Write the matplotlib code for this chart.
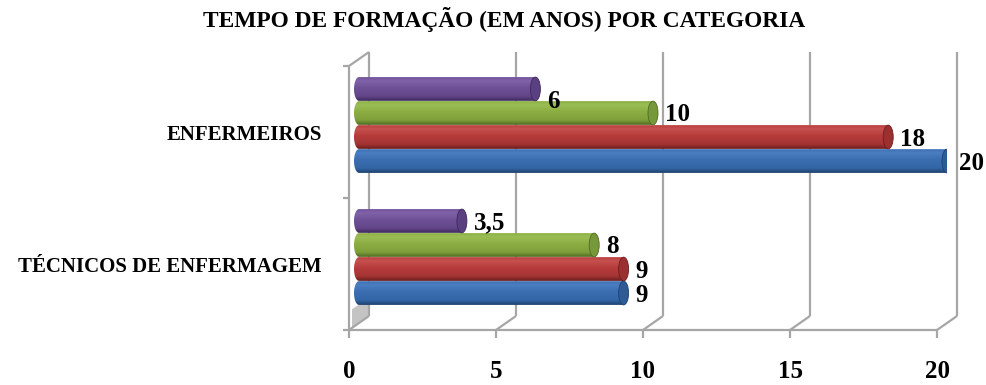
import matplotlib.pyplot as plt
import matplotlib.colors as mcolors
from matplotlib.lines import Line2D
from matplotlib.patches import Polygon, Ellipse
from matplotlib.transforms import IdentityTransform
import numpy as np

# Data
title = "TEMPO DE FORMAÇÃO (EM ANOS) POR CATEGORIA"
categories = ["TÉCNICOS DE ENFERMAGEM", "ENFERMEIROS"]
serie1 = [9, 20]
serie2 = [9, 18]
serie3 = [8, 10]
serie4 = [3.5, 6]
x_ticks = [0, 5, 10, 15, 20]

series = [serie1, serie2, serie3, serie4]

# cylinder shading, top -> bottom
shades = [
    ['#3e71b4', '#4b7ec1', '#3b6eb1', '#3366a6', '#1f426f'],   # blue
    ['#b9403f', '#c65150', '#b63b3b', '#a53434', '#6c1e1e'],   # red
    ['#8db046', '#9bbd55', '#8cad42', '#7f9f3a', '#506b24'],   # green
    ['#71539b', '#7f62a8', '#6e5097', '#634689', '#3e2a5c'],   # purple
]
cap_colors = ['#2e5b96', '#9a3030', '#76973a', '#5a4080']

plt.rcParams['font.family'] = ['Liberation Serif', 'DejaVu Serif']
plt.rcParams['font.weight'] = 'bold'

W, H = 986, 385
fig = plt.figure(figsize=(W / 100, H / 100), dpi=100, facecolor='white')

# axes = middle depth plane of the 3D box (x from -0.5 so the rounded bar ends fit)
ppu = 29.4
left_px, right_px, top_px, bot_px = 359 - 0.5 * ppu, 947, 59, 323
ax = fig.add_axes([left_px / W, 1 - bot_px / H, (right_px - left_px) / W, (bot_px - top_px) / H])
XL = (-0.5, 20)
YL = (-0.5, 1.5)
ax.set_xlim(*XL)
ax.set_ylim(*YL)
ax.set_autoscale_on(False)
ax.axis('off')

FRONT = np.array([-10, -7])
BACK = np.array([10, 7])
grid_col = '#a6a6a6'


def px(x, y, off):
    return ax.transData.transform((x, y)) + off


def seg(p1, p2, z=1, lw=1.6):
    pts = np.array([p1, p2])
    ax.add_line(Line2D(pts[:, 0], pts[:, 1], color=grid_col, lw=lw,
                       transform=IdentityTransform(), clip_on=False, zorder=z,
                       solid_capstyle='butt'))


y0, y1 = YL

# back wall gridlines + floor diagonals + ticks
for t in x_ticks:
    seg(px(t, y0, BACK), px(t, y1, BACK))
    seg(px(t, y0, BACK), px(t, y0, FRONT))
    seg(px(t, y0, FRONT), px(t, y0, FRONT) + np.array([0, -8]))
    ax.annotate(str(t), xy=(t, y0), xytext=(-10, -48), textcoords='offset pixels',
                ha='center', va='center', fontsize=18, fontweight='bold')

# front axes lines
seg(px(0, y0, FRONT), px(20, y0, FRONT))
seg(px(0, y0, FRONT), px(0, y1, FRONT))
seg(px(0, y1, FRONT), px(0, y1, BACK))
for yy in [y0, 0.5, y1]:
    seg(px(0, yy, FRONT), px(0, yy, FRONT) + np.array([-6, 0]))

# bars
step = 0.182
bh = 0.18
rx = 5 / ppu
offsets = [-1.5 * step, -0.5 * step, 0.5 * step, 1.5 * step]

# shaded left wall under the lowest bar
ylow = 0 + offsets[0] - bh / 2
wall = np.array([px(0, ylow, BACK), px(0, y0, BACK), px(0, y0, FRONT) + [3, 2],
                 px(0, ylow + 0.02, FRONT) + [3, 0]])
ax.add_patch(Polygon(wall, closed=True, facecolor='#c4c4c4', edgecolor='none',
                     transform=IdentityTransform(), zorder=0.5, clip_on=False))

label_nudge = {(3, 1): -11}

for si, (vals, cols) in enumerate(zip(series, shades)):
    cmap = mcolors.LinearSegmentedColormap.from_list(
        f's{si}', list(zip([0, 0.15, 0.45, 0.8, 1.0], cols)))
    grad = np.linspace(0, 1, 64).reshape(-1, 1)
    for ci, v in enumerate(vals):
        c = ci + offsets[si]
        top, bot = c + bh / 2, c - bh / 2
        th = np.linspace(np.pi / 2, 3 * np.pi / 2, 30)
        ex = rx * np.cos(th)
        ey = c + bh / 2 * np.sin(th)
        verts = np.vstack([[[v, top]], np.column_stack([ex, ey]), [[v, bot]]])
        clip = Polygon(verts, closed=True, transform=ax.transData)
        img = ax.imshow(grad, extent=(-rx, v, bot, top), cmap=cmap, aspect='auto',
                        origin='upper', zorder=3, interpolation='bilinear')
        img.set_clip_path(clip)
        ax.add_patch(Ellipse((v, c), 2 * rx, bh, facecolor=cap_colors[si],
                             edgecolor=cols[4], lw=0.6, zorder=3.5))
        lab = f"{v:g}".replace('.', ',')
        ax.annotate(lab, xy=(v, c), xytext=(12, -2 + label_nudge.get((si, ci), 0)),
                    textcoords='offset pixels', ha='left', va='center',
                    fontsize=18, fontweight='bold', zorder=5)

ax.set_xlim(*XL)
ax.set_ylim(*YL)

# category labels
for ci, name in enumerate(categories):
    ax.annotate(name, xy=(0, ci), xytext=(-37, -10), textcoords='offset pixels',
                ha='right', va='center', fontsize=15, fontweight='bold')

fig.text(504 / W, 1 - 19 / H, title, ha='center', va='center', fontsize=16.8, fontweight='bold')

fig.savefig('out.png', dpi=100, facecolor='white')
